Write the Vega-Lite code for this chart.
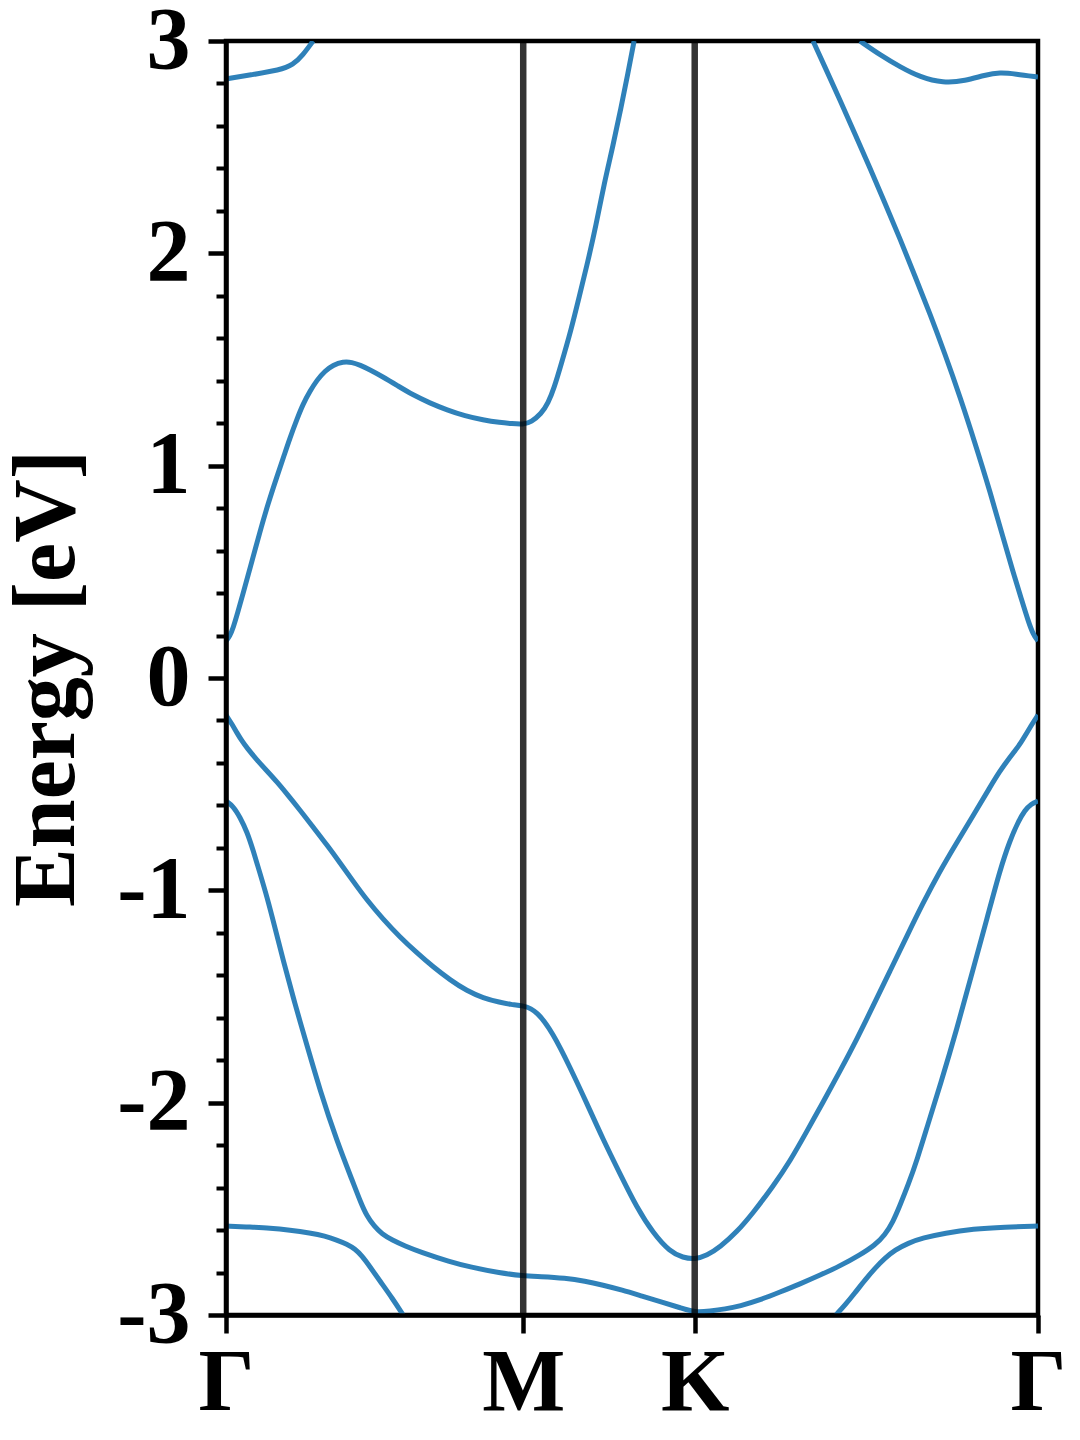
{
  "$schema": "https://vega.github.io/schema/vega-lite/v6.json",
  "width": 812,
  "height": 1274,
  "autosize": {"type": "none"},
  "padding": {"left": 226, "top": 41, "right": 42, "bottom": 125},
  "background": "white",
  "config": {"view": {"stroke": "black", "strokeWidth": 4.5}, "font": "Liberation Serif"},
  "datasets": {
    "bands": [
      {"band": "ctl", "k": 0, "E": 2.821},
      {"band": "ctl", "k": 0.081, "E": 2.84},
      {"band": "ctl", "k": 0.182, "E": 2.863},
      {"band": "ctl", "k": 0.225, "E": 2.887},
      {"band": "ctl", "k": 0.259, "E": 2.934},
      {"band": "ctl", "k": 0.293, "E": 3.0},
      {"band": "ctr", "k": 2.133, "E": 3.0},
      {"band": "ctr", "k": 2.201, "E": 2.934},
      {"band": "ctr", "k": 2.268, "E": 2.878},
      {"band": "ctr", "k": 2.335, "E": 2.83},
      {"band": "ctr", "k": 2.413, "E": 2.802},
      {"band": "ctr", "k": 2.487, "E": 2.812},
      {"band": "ctr", "k": 2.554, "E": 2.84},
      {"band": "ctr", "k": 2.604, "E": 2.852},
      {"band": "ctr", "k": 2.655, "E": 2.845},
      {"band": "ctr", "k": 2.732, "E": 2.83},
      {"band": "cb1", "k": 0, "E": 0.174},
      {"band": "cb1", "k": 0.013, "E": 0.198},
      {"band": "cb1", "k": 0.024, "E": 0.235},
      {"band": "cb1", "k": 0.04, "E": 0.311},
      {"band": "cb1", "k": 0.057, "E": 0.396},
      {"band": "cb1", "k": 0.081, "E": 0.518},
      {"band": "cb1", "k": 0.114, "E": 0.688},
      {"band": "cb1", "k": 0.141, "E": 0.819},
      {"band": "cb1", "k": 0.172, "E": 0.951},
      {"band": "cb1", "k": 0.195, "E": 1.046},
      {"band": "cb1", "k": 0.215, "E": 1.13},
      {"band": "cb1", "k": 0.239, "E": 1.22},
      {"band": "cb1", "k": 0.259, "E": 1.29},
      {"band": "cb1", "k": 0.283, "E": 1.352},
      {"band": "cb1", "k": 0.306, "E": 1.403},
      {"band": "cb1", "k": 0.333, "E": 1.446},
      {"band": "cb1", "k": 0.36, "E": 1.474},
      {"band": "cb1", "k": 0.394, "E": 1.49},
      {"band": "cb1", "k": 0.424, "E": 1.487},
      {"band": "cb1", "k": 0.451, "E": 1.474},
      {"band": "cb1", "k": 0.485, "E": 1.451},
      {"band": "cb1", "k": 0.528, "E": 1.418},
      {"band": "cb1", "k": 0.579, "E": 1.375},
      {"band": "cb1", "k": 0.629, "E": 1.333},
      {"band": "cb1", "k": 0.686, "E": 1.295},
      {"band": "cb1", "k": 0.744, "E": 1.262},
      {"band": "cb1", "k": 0.804, "E": 1.234},
      {"band": "cb1", "k": 0.865, "E": 1.215},
      {"band": "cb1", "k": 0.922, "E": 1.203},
      {"band": "cb1", "k": 0.962, "E": 1.198},
      {"band": "cb1", "k": 1.0, "E": 1.194},
      {"band": "cb1", "k": 1.027, "E": 1.206},
      {"band": "cb1", "k": 1.06, "E": 1.243},
      {"band": "cb1", "k": 1.084, "E": 1.295},
      {"band": "cb1", "k": 1.104, "E": 1.366},
      {"band": "cb1", "k": 1.127, "E": 1.474},
      {"band": "cb1", "k": 1.161, "E": 1.639},
      {"band": "cb1", "k": 1.188, "E": 1.794},
      {"band": "cb1", "k": 1.218, "E": 1.964},
      {"band": "cb1", "k": 1.245, "E": 2.133},
      {"band": "cb1", "k": 1.272, "E": 2.327},
      {"band": "cb1", "k": 1.302, "E": 2.506},
      {"band": "cb1", "k": 1.329, "E": 2.685},
      {"band": "cb1", "k": 1.352, "E": 2.845},
      {"band": "cb1", "k": 1.373, "E": 3.0},
      {"band": "cb2", "k": 1.975, "E": 3.0},
      {"band": "cb2", "k": 2.015, "E": 2.878},
      {"band": "cb2", "k": 2.066, "E": 2.722},
      {"band": "cb2", "k": 2.116, "E": 2.562},
      {"band": "cb2", "k": 2.167, "E": 2.402},
      {"band": "cb2", "k": 2.217, "E": 2.237},
      {"band": "cb2", "k": 2.268, "E": 2.068},
      {"band": "cb2", "k": 2.318, "E": 1.893},
      {"band": "cb2", "k": 2.369, "E": 1.714},
      {"band": "cb2", "k": 2.419, "E": 1.526},
      {"band": "cb2", "k": 2.47, "E": 1.323},
      {"band": "cb2", "k": 2.52, "E": 1.107},
      {"band": "cb2", "k": 2.571, "E": 0.876},
      {"band": "cb2", "k": 2.614, "E": 0.664},
      {"band": "cb2", "k": 2.648, "E": 0.499},
      {"band": "cb2", "k": 2.675, "E": 0.377},
      {"band": "cb2", "k": 2.699, "E": 0.268},
      {"band": "cb2", "k": 2.715, "E": 0.207},
      {"band": "cb2", "k": 2.732, "E": 0.174},
      {"band": "v1", "k": 0, "E": -0.174},
      {"band": "v1", "k": 0.02, "E": -0.217},
      {"band": "v1", "k": 0.037, "E": -0.259},
      {"band": "v1", "k": 0.054, "E": -0.297},
      {"band": "v1", "k": 0.071, "E": -0.33},
      {"band": "v1", "k": 0.104, "E": -0.386},
      {"band": "v1", "k": 0.138, "E": -0.438},
      {"band": "v1", "k": 0.172, "E": -0.49},
      {"band": "v1", "k": 0.205, "E": -0.546},
      {"band": "v1", "k": 0.249, "E": -0.622},
      {"band": "v1", "k": 0.293, "E": -0.702},
      {"band": "v1", "k": 0.34, "E": -0.787},
      {"band": "v1", "k": 0.384, "E": -0.871},
      {"band": "v1", "k": 0.427, "E": -0.956},
      {"band": "v1", "k": 0.474, "E": -1.046},
      {"band": "v1", "k": 0.528, "E": -1.135},
      {"band": "v1", "k": 0.585, "E": -1.22},
      {"band": "v1", "k": 0.643, "E": -1.295},
      {"band": "v1", "k": 0.697, "E": -1.361},
      {"band": "v1", "k": 0.754, "E": -1.422},
      {"band": "v1", "k": 0.811, "E": -1.474},
      {"band": "v1", "k": 0.865, "E": -1.507},
      {"band": "v1", "k": 0.922, "E": -1.528},
      {"band": "v1", "k": 0.959, "E": -1.538},
      {"band": "v1", "k": 1.0, "E": -1.542},
      {"band": "v1", "k": 1.046, "E": -1.568},
      {"band": "v1", "k": 1.1, "E": -1.672},
      {"band": "v1", "k": 1.157, "E": -1.832},
      {"band": "v1", "k": 1.215, "E": -2.006},
      {"band": "v1", "k": 1.268, "E": -2.171},
      {"band": "v1", "k": 1.326, "E": -2.336},
      {"band": "v1", "k": 1.383, "E": -2.496},
      {"band": "v1", "k": 1.437, "E": -2.614},
      {"band": "v1", "k": 1.494, "E": -2.703},
      {"band": "v1", "k": 1.538, "E": -2.73},
      {"band": "v1", "k": 1.577, "E": -2.738},
      {"band": "v1", "k": 1.618, "E": -2.72},
      {"band": "v1", "k": 1.662, "E": -2.68},
      {"band": "v1", "k": 1.719, "E": -2.609},
      {"band": "v1", "k": 1.773, "E": -2.52},
      {"band": "v1", "k": 1.841, "E": -2.393},
      {"band": "v1", "k": 1.898, "E": -2.275},
      {"band": "v1", "k": 1.955, "E": -2.133},
      {"band": "v1", "k": 2.009, "E": -1.997},
      {"band": "v1", "k": 2.066, "E": -1.851},
      {"band": "v1", "k": 2.123, "E": -1.7},
      {"band": "v1", "k": 2.177, "E": -1.545},
      {"band": "v1", "k": 2.234, "E": -1.38},
      {"band": "v1", "k": 2.291, "E": -1.215},
      {"band": "v1", "k": 2.345, "E": -1.06},
      {"band": "v1", "k": 2.402, "E": -0.909},
      {"band": "v1", "k": 2.46, "E": -0.772},
      {"band": "v1", "k": 2.513, "E": -0.65},
      {"band": "v1", "k": 2.571, "E": -0.513},
      {"band": "v1", "k": 2.604, "E": -0.438},
      {"band": "v1", "k": 2.628, "E": -0.391},
      {"band": "v1", "k": 2.651, "E": -0.349},
      {"band": "v1", "k": 2.672, "E": -0.311},
      {"band": "v1", "k": 2.692, "E": -0.264},
      {"band": "v1", "k": 2.712, "E": -0.217},
      {"band": "v1", "k": 2.732, "E": -0.174},
      {"band": "v2", "k": 0, "E": -0.579},
      {"band": "v2", "k": 0.024, "E": -0.603},
      {"band": "v2", "k": 0.047, "E": -0.655},
      {"band": "v2", "k": 0.071, "E": -0.725},
      {"band": "v2", "k": 0.091, "E": -0.81},
      {"band": "v2", "k": 0.114, "E": -0.918},
      {"band": "v2", "k": 0.138, "E": -1.031},
      {"band": "v2", "k": 0.165, "E": -1.177},
      {"band": "v2", "k": 0.192, "E": -1.328},
      {"band": "v2", "k": 0.232, "E": -1.535},
      {"band": "v2", "k": 0.273, "E": -1.733},
      {"band": "v2", "k": 0.316, "E": -1.94},
      {"band": "v2", "k": 0.373, "E": -2.181},
      {"band": "v2", "k": 0.427, "E": -2.374},
      {"band": "v2", "k": 0.454, "E": -2.473},
      {"band": "v2", "k": 0.474, "E": -2.534},
      {"band": "v2", "k": 0.498, "E": -2.581},
      {"band": "v2", "k": 0.525, "E": -2.619},
      {"band": "v2", "k": 0.559, "E": -2.647},
      {"band": "v2", "k": 0.602, "E": -2.675},
      {"band": "v2", "k": 0.653, "E": -2.703},
      {"band": "v2", "k": 0.754, "E": -2.75},
      {"band": "v2", "k": 0.821, "E": -2.774},
      {"band": "v2", "k": 0.922, "E": -2.802},
      {"band": "v2", "k": 1.0, "E": -2.816},
      {"band": "v2", "k": 1.057, "E": -2.819},
      {"band": "v2", "k": 1.141, "E": -2.826},
      {"band": "v2", "k": 1.208, "E": -2.84},
      {"band": "v2", "k": 1.268, "E": -2.859},
      {"band": "v2", "k": 1.332, "E": -2.882},
      {"band": "v2", "k": 1.4, "E": -2.911},
      {"band": "v2", "k": 1.467, "E": -2.939},
      {"band": "v2", "k": 1.531, "E": -2.967},
      {"band": "v2", "k": 1.577, "E": -2.988},
      {"band": "v2", "k": 1.629, "E": -2.981},
      {"band": "v2", "k": 1.679, "E": -2.972},
      {"band": "v2", "k": 1.729, "E": -2.958},
      {"band": "v2", "k": 1.797, "E": -2.929},
      {"band": "v2", "k": 1.864, "E": -2.892},
      {"band": "v2", "k": 1.931, "E": -2.854},
      {"band": "v2", "k": 1.999, "E": -2.812},
      {"band": "v2", "k": 2.066, "E": -2.769},
      {"band": "v2", "k": 2.133, "E": -2.717},
      {"band": "v2", "k": 2.184, "E": -2.67},
      {"band": "v2", "k": 2.217, "E": -2.623},
      {"band": "v2", "k": 2.244, "E": -2.562},
      {"band": "v2", "k": 2.268, "E": -2.482},
      {"band": "v2", "k": 2.295, "E": -2.388},
      {"band": "v2", "k": 2.325, "E": -2.27},
      {"band": "v2", "k": 2.362, "E": -2.1},
      {"band": "v2", "k": 2.402, "E": -1.922},
      {"band": "v2", "k": 2.46, "E": -1.648},
      {"band": "v2", "k": 2.513, "E": -1.375},
      {"band": "v2", "k": 2.561, "E": -1.13},
      {"band": "v2", "k": 2.604, "E": -0.904},
      {"band": "v2", "k": 2.638, "E": -0.763},
      {"band": "v2", "k": 2.665, "E": -0.678},
      {"band": "v2", "k": 2.688, "E": -0.622},
      {"band": "v2", "k": 2.709, "E": -0.593},
      {"band": "v2", "k": 2.732, "E": -0.579},
      {"band": "v3l", "k": 0, "E": -2.581},
      {"band": "v3l", "k": 0.081, "E": -2.586},
      {"band": "v3l", "k": 0.148, "E": -2.59},
      {"band": "v3l", "k": 0.215, "E": -2.6},
      {"band": "v3l", "k": 0.283, "E": -2.614},
      {"band": "v3l", "k": 0.333, "E": -2.628},
      {"band": "v3l", "k": 0.373, "E": -2.647},
      {"band": "v3l", "k": 0.407, "E": -2.666},
      {"band": "v3l", "k": 0.434, "E": -2.689},
      {"band": "v3l", "k": 0.458, "E": -2.722},
      {"band": "v3l", "k": 0.485, "E": -2.774},
      {"band": "v3l", "k": 0.518, "E": -2.84},
      {"band": "v3l", "k": 0.559, "E": -2.92},
      {"band": "v3l", "k": 0.596, "E": -3.0},
      {"band": "v3r", "k": 2.052, "E": -3.0},
      {"band": "v3r", "k": 2.083, "E": -2.953},
      {"band": "v3r", "k": 2.116, "E": -2.896},
      {"band": "v3r", "k": 2.15, "E": -2.835},
      {"band": "v3r", "k": 2.184, "E": -2.779},
      {"band": "v3r", "k": 2.217, "E": -2.732},
      {"band": "v3r", "k": 2.251, "E": -2.694},
      {"band": "v3r", "k": 2.295, "E": -2.661},
      {"band": "v3r", "k": 2.345, "E": -2.637},
      {"band": "v3r", "k": 2.419, "E": -2.614},
      {"band": "v3r", "k": 2.513, "E": -2.595},
      {"band": "v3r", "k": 2.621, "E": -2.586},
      {"band": "v3r", "k": 2.732, "E": -2.581}
    ],
    "kpts": [{"k": 1.0}, {"k": 1.577}]
  },
  "layer": [
    {
      "data": {"name": "bands"},
      "mark": {"type": "line", "interpolate": "basis", "strokeWidth": 5, "color": "#1f77b4", "opacity": 0.93, "clip": true},
      "encoding": {
        "x": {
          "field": "k", "type": "quantitative",
          "scale": {"domain": [0, 2.732], "nice": false, "zero": false},
          "axis": {
            "orient": "bottom", "values": [0, 1, 1.577, 2.732],
            "labelExpr": "datum.value < 0.5 ? 'Γ' : (datum.value < 1.3 ? 'M' : (datum.value < 2 ? 'K' : 'Γ'))",
            "tickSize": 18, "tickWidth": 4.5, "tickColor": "black",
            "domainColor": "black", "domainWidth": 4.5,
            "labelFont": "Liberation Serif", "labelFontWeight": "bold", "labelFontSize": 88, "labelColor": "black",
            "labelPadding": 6, "labelFlush": false, "labelOverlap": false, "labelBound": false,
            "grid": false, "title": null, "zindex": 1
          }
        },
        "y": {
          "field": "E", "type": "quantitative",
          "scale": {"domain": [-3, 3], "nice": false, "zero": false},
          "axis": {
            "orient": "left", "values": [-3, -2, -1, 0, 1, 2, 3],
            "labelExpr": "datum.value < 0 ? '-' + abs(datum.value) : '' + datum.value",
            "tickSize": 18, "tickWidth": 4.5, "tickColor": "black",
            "domainColor": "black", "domainWidth": 4.5,
            "labelFont": "Liberation Serif", "labelFontWeight": "bold", "labelFontSize": 88, "labelColor": "black",
            "labelPadding": 18, "labelFlush": false, "labelOverlap": false, "labelBound": false,
            "grid": false, "title": "Energy [eV]",
            "titleFont": "Liberation Serif", "titleFontWeight": "bold", "titleFontSize": 88, "titleColor": "black",
            "titlePadding": 25, "zindex": 1
          }
        },
        "detail": {"field": "band", "type": "nominal"}
      }
    },
    {
      "data": {"name": "kpts"},
      "mark": {"type": "rule", "color": "black", "opacity": 0.8, "strokeWidth": 6.5},
      "encoding": {"x": {"field": "k", "type": "quantitative"}}
    },
    {
      "data": {"name": "bands"},
      "mark": {"type": "tick", "opacity": 0},
      "encoding": {
        "y": {
          "field": "E", "type": "quantitative",
          "axis": {
            "orient": "left",
            "values": [-2.8, -2.6, -2.4, -2.2, -1.8, -1.6, -1.4, -1.2, -0.8, -0.6, -0.4, -0.2, 0.2, 0.4, 0.6, 0.8, 1.2, 1.4, 1.6, 1.8, 2.2, 2.4, 2.6, 2.8],
            "tickSize": 10, "tickWidth": 4, "tickColor": "black",
            "labels": false, "domain": false, "grid": false, "title": null, "zindex": 1
          }
        }
      }
    }
  ],
  "resolve": {"axis": {"y": "independent"}}
}
